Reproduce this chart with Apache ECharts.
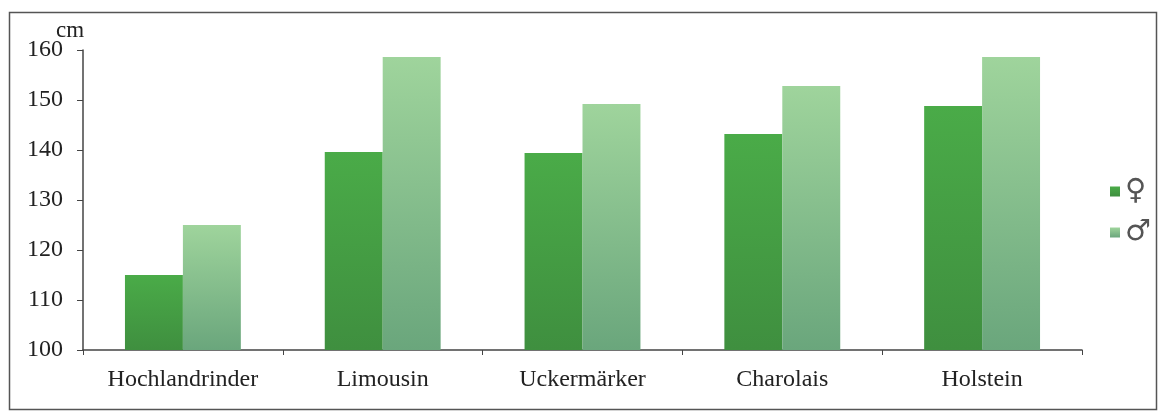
<!DOCTYPE html>
<html><head><meta charset="utf-8">
<script src="https://cdn.jsdelivr.net/npm/echarts@6/dist/echarts.min.js"></script>
<style>html,body{margin:0;padding:0;background:#fff}#c{width:1162px;height:415px}</style>
</head><body><div id="c"></div>
<script>
var categories = ['Hochlandrinder', 'Limousin', 'Uckermärker', 'Charolais', 'Holstein'];
var female = [115, 139.6, 139.4, 143.2, 148.8];
var male = [125, 158.6, 149.2, 152.8, 158.6];
var yTicks = [100, 110, 120, 130, 140, 150, 160];

var chart = echarts.init(document.getElementById('c'));
var font = 'Liberation Serif';
chart.setOption({
  animation: false,
  graphic: [{type: 'rect', shape: {x: 9.5, y: 12.5, width: 1147, height: 397}, style: {fill: 'none', stroke: '#555', lineWidth: 1.5}, silent: true}],
  legend: {
    orient: 'vertical', right: 6, top: 172, itemWidth: 10, itemHeight: 10, itemGap: 12,
    textStyle: {fontFamily: 'DejaVu Sans', fontSize: 29, color: '#555'},
    data: [{name: '♀', icon: 'rect'}, {name: '♂', icon: 'rect'}]
  },
  grid: {left: 83, right: 80, top: 50, bottom: 65},
  xAxis: {
    type: 'category', data: categories,
    axisLine: {lineStyle: {color: '#444', width: 1.5}},
    axisTick: {show: true, alignWithLabel: false, length: 5, lineStyle: {color: '#444'}},
    axisLabel: {fontFamily: font, fontSize: 24, color: '#222', margin: 18}
  },
  yAxis: {
    type: 'value', min: 100, max: 160, interval: 10, name: 'cm',
    nameMoveOverlap: false,
    nameGap: 8, nameTextStyle: {fontFamily: font, fontSize: 23, color: '#222', align: 'left', padding: [0, 0, 0, -27]},
    axisLine: {show: true, lineStyle: {color: '#444', width: 1.5}},
    axisTick: {show: true, length: 6, lineStyle: {color: '#444'}},
    splitLine: {show: false},
    axisLabel: {fontFamily: font, fontSize: 24, color: '#222', margin: 20,
      formatter: function (v) { return yTicks.indexOf(v) >= 0 ? String(v) : ''; }}
  },
  series: [
    {name: '♀', type: 'bar', data: female, barGap: '0%', barCategoryGap: '42%',
      itemStyle: {color: new echarts.graphic.LinearGradient(0, 0, 0, 1, [{offset: 0, color: '#4aab48'}, {offset: 1, color: '#3f8f3f'}])}},
    {name: '♂', type: 'bar', data: male,
      itemStyle: {color: new echarts.graphic.LinearGradient(0, 0, 0, 1, [{offset: 0, color: '#9fd49c'}, {offset: 1, color: '#6aa67c'}])}}
  ]
});
</script></body></html>
